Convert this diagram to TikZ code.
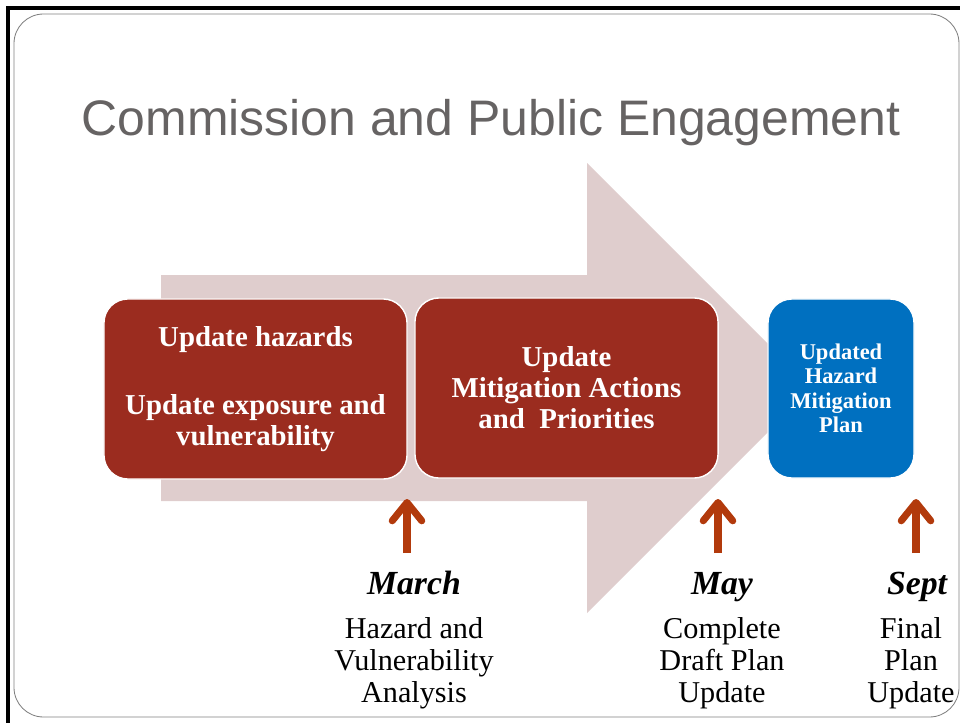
\documentclass[tikz,border=0pt]{standalone}
\usepackage{fontspec}
\setmainfont{Liberation Serif}
\newfontfamily\titlefont{Liberation Sans}
\usetikzlibrary{arrows.meta}
\definecolor{stepred}{RGB}{155,44,31}
\definecolor{planblue}{RGB}{0,112,192}
\definecolor{flowpink}{RGB}{223,205,205}
\definecolor{markred}{RGB}{178,58,12}
\definecolor{titlegray}{RGB}{102,99,99}

\begin{document}
\begin{tikzpicture}[x=0.025cm, y=-0.025cm,
    stepbox/.style={draw=white, line width=1pt, fill=stepred, rounded corners=17pt,
      minimum width=7.575cm, minimum height=4.5cm, inner sep=0pt, align=center,
      text=white, font=\bfseries\fontsize{20.5}{22}\selectfont},
    planbox/.style={stepbox, fill=planblue, minimum width=3.65cm, minimum height=4.475cm,
      font=\bfseries\fontsize{16}{17.4}\selectfont},
    month/.style={anchor=base, font=\bfseries\itshape\fontsize{24}{26}\selectfont},
    milestone/.style={align=center, font=\fontsize{21.5}{22.8}\selectfont},
    markarrow/.style={draw=markred, line width=5pt,
      -{Straight Barb[round, length=13pt, width=21pt]}}]

  % Frame
  \useasboundingbox (0,0) rectangle (960,723);
  \draw[line width=2.2pt] (8,723) -- (8,8) -- (960,8);
  \draw[gray, line width=0.6pt, rounded corners=21pt] (14,14) rectangle (959,717);

  % Title
  \node[anchor=base, text=titlegray, font=\titlefont\fontsize{35.5}{40}\selectfont] (title) at (491,135) {Commission and Public Engagement};

  % Big arrow
  \fill[flowpink] (161,275) -- (587,275) -- (587,163) -- (812,388) -- (587,613) -- (587,501) -- (161,501) -- cycle;

  % Steps
  \node[stepbox] (hazards) at (255.5,389) {Update hazards\\[26pt]Update exposure and\\vulnerability};
  \node[stepbox] (actions) at (566.5,388) {Update\\Mitigation Actions\\and~ Priorities};
  \node[planbox] (plan) at (841,388.5) {Updated\\Hazard\\Mitigation\\Plan};

  % Milestones
  \node[month] (march) at (414,594) {March};
  \node[milestone] (marchtext) at (414,663) {Hazard and\\Vulnerability\\Analysis};
  \node[month] (may) at (722,594) {May};
  \node[milestone] (maytext) at (722,663) {Complete\\Draft Plan\\Update};
  \node[month] (sept) at (917,594) {Sept};
  \node[milestone] (septtext) at (911,663) {Final\\Plan\\Update};

  % Arrows
  \coordinate (marchfoot) at (407,553);
  \coordinate (marchtip) at (407,499);
  \coordinate (mayfoot) at (718,553);
  \coordinate (maytip) at (718,499);
  \coordinate (septfoot) at (916,553);
  \coordinate (septtip) at (916,499);
  \draw[markarrow] (marchfoot) -- (marchtip);
  \draw[markarrow] (mayfoot) -- (maytip);
  \draw[markarrow] (septfoot) -- (septtip);
\end{tikzpicture}
\end{document}
